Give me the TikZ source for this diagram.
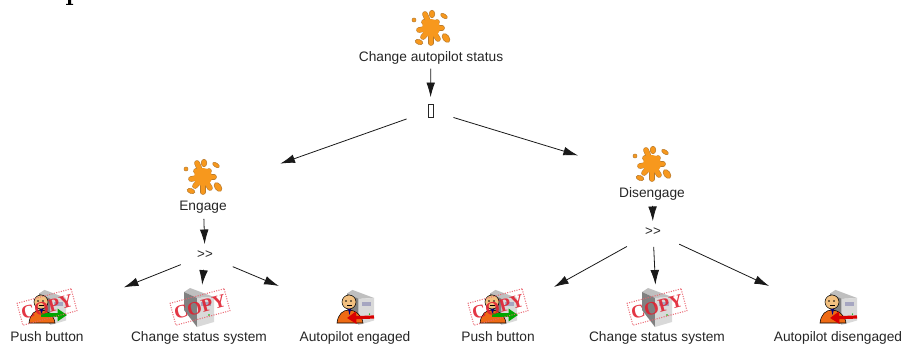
\documentclass[tikz,border=0pt]{standalone}
\usepackage{fontspec}
\setmainfont{Liberation Sans}
\newfontfamily\stampfont{Liberation Serif}
\usetikzlibrary{arrows.meta}
\definecolor{splatcol}{HTML}{F7981D}
\definecolor{splatedge}{HTML}{B87A2C}
\definecolor{bodycol}{HTML}{EE6A14}
\definecolor{facecol}{HTML}{F2C080}
\definecolor{stampcol}{HTML}{E02030}
\tikzset{
	tasklabel/.style={inner sep=0pt, anchor=base, font=\fontsize{10.3pt}{12pt}\selectfont, text=black!85},
	oplabel/.style={inner sep=0pt, font=\fontsize{10pt}{12pt}\selectfont, text=black!85},
	conn/.style={-{Latex[length=11pt, width=6.5pt]}, line width=.6pt, black!90},
	pusharrow/.style={line width=2.4pt, -{Triangle[length=7pt, width=9pt]}},
	splat/.pic={
		% rays first with the edge colour, then again in orange
		\foreach \c/\w in {splatedge/4.2pt, splatcol/3.4pt}{
			\foreach \a/\b in {-6/-14, -12/2, 11/0, 0/15, 7/11, -8/9, -7/-6, 6/-6}
			\draw[\c, line width=\w, line cap=round] (0,0) -- (\a,\b);
		}
		\draw[fill=splatcol, draw=splatedge, thin] (1,-14) ellipse[x radius=2.8, y radius=3.8];
		\draw[fill=splatcol, draw=splatedge, thin, rotate around={-35:(13,-12)}] (13,-12) ellipse[x radius=3.8, y radius=2];
		\draw[fill=splatcol, draw=splatedge, thin] (-17,-8) circle[radius=2];
		\draw[fill=splatcol, draw=splatedge, thin, rotate around={35:(15,10)}] (15,10) ellipse[x radius=3.2, y radius=5];
		\draw[fill=splatcol, draw=splatedge, thin, rotate around={-20:(-12,14)}] (-12,14) ellipse[x radius=4, y radius=2.4];
		\fill[splatcol] (0,0) circle[radius=9];
	},
	serverbox/.pic={
		\fill[black!25] (-15,-15) -- (-9,-19) -- (15,-10) -- (-2,-9) -- cycle;
		\fill[black!50] (-15,-15) -- (-2,-9) -- (-2,20) -- (-15,3) -- cycle;
		\fill[black!15] (-2,-9) -- (15,-10) -- (15,15) -- (-2,20) -- cycle;
		\fill[blue!30!black!35] (2,-5) rectangle (12,-1);
		\fill[green!70!black] (10,8) circle[radius=.8];
	},
	actor/.pic={
		\fill[bodycol, draw=black, thin] (-18,17) .. controls (-17,8) and (-12,4) .. (-6,4) .. controls (0,4) and (7,9) .. (8,17) -- cycle;
		\draw[fill=facecol, thin] (-6,-4) circle[radius=7];
		\fill (-9,-5) circle[radius=.8] (-4,-5) circle[radius=.8];
		\draw[thin] (-8,-1) -- (-3,-1);
		\fill[blue!50!black] (-7,3) -- (-4,3) -- (-5.5,9) -- cycle;
	},
	stamp/.pic={
		\node[rotate=15, draw=stampcol!70, densely dotted, thick, text=stampcol, opacity=.9, font=\stampfont\bfseries\fontsize{14pt}{14pt}\selectfont, minimum width=42pt, minimum height=17pt, inner sep=0pt] (box) at (0,0) {COPY};
	},
}
\begin{document}
\begin{tikzpicture}[x=.75pt, y=-.75pt]
	\useasboundingbox (0,0) rectangle (903,345);
	\fill (68,0) rectangle (71,4) (66,4) rectangle (73,5);
	% composite tasks
	\foreach \name/\x/\y/\txt in {top/431/62/Change autopilot status, engage/203/211/Engage, disengage/652/198/Disengage}{
		\pic at (\x,\y-34) {splat};
		\coordinate (\name) at (\x,\y-20);
		\node[tasklabel] (\name label) at (\x,\y) {\txt};
	}
	% operators
	\node[draw=black!85, thin, inner sep=0pt, minimum width=3.4pt, minimum height=9.5pt] (choice) at (430.5,110.5) {};
	\node[oplabel] (engageop) at (205,255) {{>}{>}};
	\node[oplabel] (disengageop) at (653,232) {{>}{>}};
	% leaves
	\pic[scale=.9] at (52.5,307) {serverbox};
	\pic at (47,306) {actor};
	\pic at (199,307) {serverbox};
	\pic[scale=.9] at (360.5,307) {serverbox};
	\pic at (355,306) {actor};
	\pic[scale=.9] at (503.5,307) {serverbox};
	\pic at (498,306) {actor};
	\pic at (657,307) {serverbox};
	\pic[scale=.9] at (843.5,307) {serverbox};
	\pic at (838,306) {actor};
	\draw[pusharrow, green!65!black] (41,315) -- (67,315);
	\draw[pusharrow, green!65!black] (492,315) -- (518,315);
	\draw[pusharrow, red!85!black] (374,317) -- (347,318);
	\draw[pusharrow, red!85!black] (857,317) -- (830,318);
	\pic (stampa) at (47,307) {stamp};
	\pic (stampb) at (200,307) {stamp};
	\pic (stampc) at (498,307) {stamp};
	\pic (stampd) at (657,307) {stamp};
	\foreach \name/\x/\txt in {pushone/47/Push button, statusone/199/Change status system, engaged/355/Autopilot engaged, pushtwo/498/Push button, statustwo/657/Change status system, disengaged/838/Autopilot disengaged}{
		\coordinate (\name) at (\x,318);
		\node[tasklabel] (\name label) at (\x,341) {\txt};
	}
	% connectors
	\draw[conn, shorten <=20pt, shorten >=5pt] (top) -- (choice);
	\draw[conn, shorten <=17pt, shorten >=61.5pt] (choice) -- (engage);
	\draw[conn, shorten <=16pt, shorten >=58pt] (choice) -- (disengage);
	\draw[conn, shorten <=21pt, shorten >=5pt] (engage) -- (engageop);
	\draw[conn, shorten <=21pt, shorten >=5pt] (disengage) -- (disengageop);
	\draw[conn, shorten <=13pt, shorten >=62pt] (engageop) -- (pushone);
	\draw[conn, shorten <=8pt, shorten >=25pt] (engageop) -- (statusone);
	\draw[conn, shorten <=16pt, shorten >=62pt] (engageop) -- (engaged);
	\draw[conn, shorten <=16pt, shorten >=48pt] (disengageop) -- (pushtwo);
	\draw[conn, shorten <=8pt, shorten >=25pt] (disengageop) -- (statustwo);
	\draw[conn, shorten <=15pt, shorten >=57pt] (disengageop) -- (disengaged);
\end{tikzpicture}
\end{document}
